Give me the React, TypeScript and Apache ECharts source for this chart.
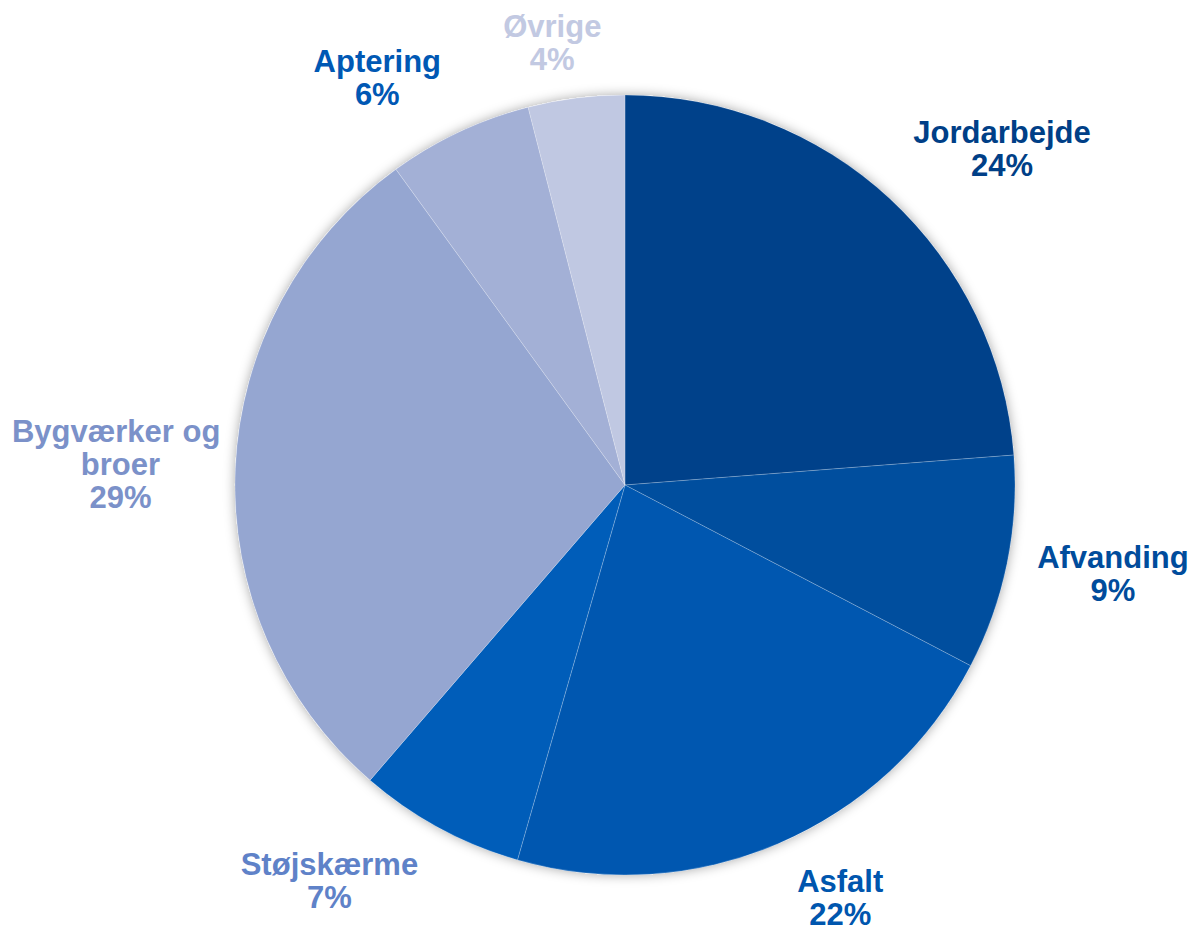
import React, { useEffect, useRef } from "react";
import * as echarts from "echarts";

const categories = [
  "Jordarbejde",
  "Afvanding",
  "Asfalt",
  "Støjskærme",
  "Bygværker og broer",
  "Aptering",
  "Øvrige",
];
const values = [23.8, 8.9, 21.8, 6.9, 28.7, 6.0, 4.0];

const sliceColors = ["#00418A", "#004E9E", "#0057B0", "#005DB9", "#95A6D1", "#A3B0D6", "#C0C8E2"];
const labelColors = ["#003F87", "#004C9C", "#0056AE", "#5F82C8", "#7B91C9", "#0058B4", "#C2C9E2"];
const labelShift: [number, number][] = [
  [42, 26],
  [5, -10],
  [21, -40],
  [-61, -38],
  [-12, 0],
  [-38, 39],
  [-11, 47],
];

export default function App() {
  const ref = useRef<HTMLDivElement>(null);
  useEffect(() => {
    if (!ref.current) return;
    const chart = echarts.init(ref.current, null, { renderer: "svg" });
    const center = [625, 485];
    const data = categories.map((name, i) => ({
      name,
      value: values[i],
      itemStyle: { color: sliceColors[i] },
    }));
    const labelData = categories.map((name, i) => ({
      name,
      value: values[i],
      label: { color: labelColors[i] },
    }));
    chart.setOption({
      animation: false,
      backgroundColor: "#ffffff",
      series: [
        {
          type: "pie",
          silent: true,
          center,
          radius: [0, 390],
          z: 1,
          label: { show: false },
          labelLine: { show: false },
          itemStyle: {
            color: "#ffffff",
            shadowBlur: 12,
            shadowColor: "rgba(0,0,0,0.35)",
          },
          data: [{ name: "shadow", value: 1 }],
        },
        {
          type: "pie",
          silent: true,
          center,
          radius: [0, 390],
          startAngle: 90,
          clockwise: true,
          z: 2,
          label: { show: false },
          labelLine: { show: false },
          itemStyle: {
            borderColor: "rgba(255,255,255,0.25)",
            borderWidth: 0.8,
          },
          data,
        },
        {
          type: "pie",
          silent: true,
          center,
          radius: [390, 590],
          startAngle: 90,
          clockwise: true,
          z: 3,
          avoidLabelOverlap: false,
          itemStyle: { color: "rgba(0,0,0,0)" },
          labelLine: { show: false },
          label: {
            show: true,
            position: "inside",
            fontFamily: "Liberation Sans, Arial, sans-serif",
            fontWeight: "bold",
            fontSize: 31,
            lineHeight: 33,
            align: "center",
            width: 236,
            overflow: "break",
            formatter: (p: any) => `${p.name}\n${Math.round(p.percent)}%`,
          },
          labelLayout: (p: any) => ({
            dx: labelShift[p.dataIndex][0],
            dy: labelShift[p.dataIndex][1],
          }),
          data: labelData,
        },
      ],
    });
    return () => chart.dispose();
  }, []);
  return (
    <div
      ref={ref}
      style={{ position: "absolute", left: 0, top: 0, width: 1189, height: 927 }}
    />
  );
}
